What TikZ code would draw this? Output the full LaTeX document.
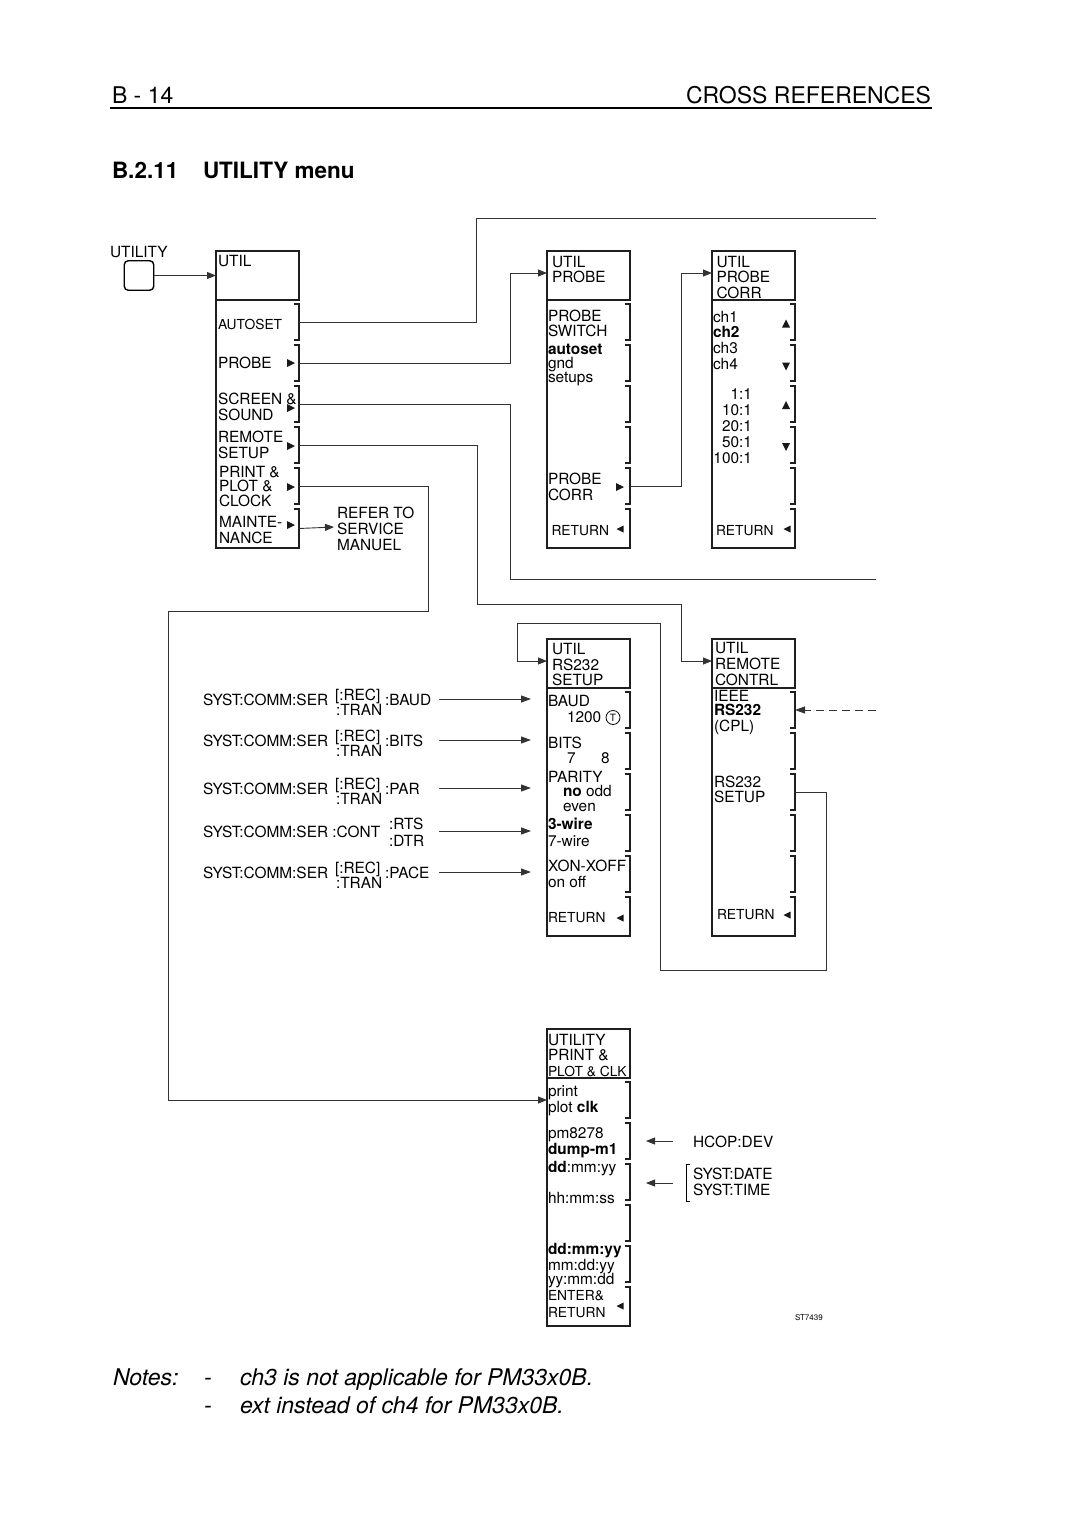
\documentclass[tikz,border=0pt]{standalone}
\usepackage{fontspec}
\setmainfont{TeX Gyre Heros}
\usetikzlibrary{arrows.meta,calc}
\tikzset{
  boxline/.style={line width=1.7pt, draw=black!88},
  conn/.style={line width=0.9pt, draw=black!80},
  arr/.style={-{Triangle[length=9pt,width=7pt]}},
  txt/.style={inner sep=0pt, outer sep=0pt, anchor=base west, font=\fontsize{15.4}{16}\selectfont},
  txr/.style={txt, anchor=base east},
  stxt/.style={txt, font=\fontsize{13.8}{14}\selectfont},
  btxt/.style={txt, font=\fontsize{15.4}{16}\selectfont\bfseries},
  ntxt/.style={txt, font=\fontsize{23}{26}\selectfont\itshape},
}
% menu box: name, x, top y
\newcommand\menubox[3]{%
  \node[boxline, draw, minimum width=83pt, minimum height=49pt, inner sep=0pt, outer sep=0pt, anchor=north west] (#1) at (#2,#3) {};
  \draw[boxline] (#2,#3+49) -- (#2,#3+297) -- (#2+83,#3+297);
  \foreach \a/\b [count=\k] in {53/89,94/130,135/171,176/212,217/253,258/297} {
    \draw[boxline] (#2+78,#3+\a) -- (#2+83,#3+\a) -- (#2+83,#3+\b) -- (#2+78,#3+\b);
    \coordinate (#1-k\k) at (#2+83,{#3+(\a+\b)/2});
    \coordinate (#1-w\k) at (#2,{#3+(\a+\b)/2});
  }
  \coordinate (#1-in) at (#2,#3+22);
}
\newcommand\rtri[2]{\fill[black!90] (#1-4,#2-4) -- (#1+4,#2) -- (#1-4,#2+4) -- cycle;}
\newcommand\ltri[2]{\fill[black!90] (#1+3.5,#2-3.5) -- (#1-3.5,#2) -- (#1+3.5,#2+3.5) -- cycle;}
\newcommand\utri[2]{\fill[black!90] (#1-4,#2+4) -- (#1,#2-4) -- (#1+4,#2+4) -- cycle;}
\newcommand\dtri[2]{\fill[black!90] (#1-4,#2-4) -- (#1,#2+4) -- (#1+4,#2-4) -- cycle;}
\begin{document}
\begin{tikzpicture}[x=1pt,y=-1pt]
\fill[white] (0,0) rectangle (1080,1529);
\useasboundingbox (0,0) rectangle (1080,1529);

% page header
\node[txt, font=\fontsize{23}{26}\selectfont] (hdl) at (112,103) {B - 14};
\node[txr, font=\fontsize{23}{26}\selectfont] (hdr) at (931,103) {CROSS REFERENCES};
\draw[line width=1.3pt] (110,108) -- (932,108);
\node[txt, font=\fontsize{22.5}{24}\selectfont\bfseries] (ttl1) at (112,178) {B.2.11};
\node[txt, font=\fontsize{22.5}{24}\selectfont\bfseries] (ttl2) at (203,178) {UTILITY menu};

% utility key
\node[txt] (lutil) at (110,257) {UTILITY};
\node[draw, line width=1.4pt, rounded corners=4pt, minimum width=29.5pt, minimum height=29.5pt, inner sep=0pt] (btn) at (139,275.5) {};

% boxes
\menubox{util}{216}{251}
\menubox{probe}{547}{251}
\menubox{corr}{712}{251}
\menubox{rs}{547}{639}
\menubox{remote}{712}{639}
\menubox{print}{547}{1029}

% UTIL box text
\node[txt] (u0) at (218,266) {UTIL};
\node[stxt] (u1) at (218,329) {AUTOSET};
\node[txt] (u2) at (218,368) {PROBE};
\node[txt] (u3a) at (218,404) {SCREEN \&};
\node[txt] (u3b) at (218,420) {SOUND};
\node[txt] (u4a) at (218,442) {REMOTE};
\node[txt] (u4b) at (218,458) {SETUP};
\node[txt] (u5a) at (219,477) {PRINT \&};
\node[txt] (u5b) at (219,491) {PLOT \&};
\node[txt] (u5c) at (219,506) {CLOCK};
\node[txt] (u6a) at (219,527) {MAINTE-};
\node[txt] (u6b) at (219,543) {NANCE};
\rtri{291}{363}\rtri{291}{408}\rtri{291}{446}\rtri{291}{487}\rtri{291}{525}
\node[txt] (ref1) at (337,518) {REFER TO};
\node[txt] (ref2) at (337,534) {SERVICE};
\node[txt] (ref3) at (337,550) {MANUEL};
\coordinate (refin) at (334,527);

% UTIL PROBE box
\node[txt] (p0a) at (552,267) {UTIL};
\node[txt] (p0b) at (552,282) {PROBE};
\node[txt] (p1a) at (548,321) {PROBE};
\node[txt] (p1b) at (548,336) {SWITCH};
\node[btxt] (p2a) at (548,354) {autoset};
\node[txt] (p2b) at (548,368) {gnd};
\node[txt] (p2c) at (548,382) {setups};
\node[txt] (p5a) at (548,484) {PROBE};
\node[txt] (p5b) at (548,500) {CORR};
\rtri{620}{487}
\node[stxt] (p6) at (551.5,535) {RETURN};
\ltri{620}{529}

% UTIL PROBE CORR box
\node[txt] (c0a) at (716.5,267) {UTIL};
\node[txt] (c0b) at (716.5,282) {PROBE};
\node[txt] (c0c) at (716.5,298) {CORR};
\node[txt] (c1a) at (713,322) {ch1};
\node[btxt] (c1b) at (713,337.5) {ch2};
\node[txt] (c2a) at (713,353) {ch3};
\node[txt] (c2b) at (713,369) {ch4};
\utri{786}{323.5}\dtri{786}{366.5}
\node[txr] (c3a) at (752,399) {1:1};
\node[txr] (c3b) at (752,415) {10:1};
\node[txr] (c3c) at (752,431) {20:1};
\node[txr] (c3d) at (752,447) {50:1};
\node[txr] (c3e) at (752,463) {100:1};
\utri{786}{405}\dtri{786}{447}
\node[stxt] (c6) at (716,535) {RETURN};
\ltri{787}{529}

% RS232 box
\node[txt] (r0a) at (552,654) {UTIL};
\node[txt] (r0b) at (552,670) {RS232};
\node[txt] (r0c) at (552,685.5) {SETUP};
\node[txt] (r1a) at (548,706) {BAUD};
\node[txt] (r1b) at (567,722) {1200};
\node[circle, draw, line width=0.8pt, minimum size=14pt, inner sep=0pt, font=\fontsize{10}{10}\selectfont] (r1t) at (613,717.5) {T};
\node[txt] (r2a) at (548,748) {BITS};
\node[txt] (r2b) at (567,763.5) {7};
\node[txt] (r2c) at (601,763.5) {8};
\node[txt] (r3a) at (548,782) {PARITY};
\node[txt] (r3b) at (563,796.5) {\textbf{no} odd};
\node[txt] (r3c) at (563,811.5) {even};
\node[btxt] (r4a) at (548,829) {3-wire};
\node[txt] (r4b) at (548,846) {7-wire};
\node[txt] (r5a) at (548,871) {XON-XOFF};
\node[txt] (r5b) at (548,887) {on off};
\node[stxt] (r6) at (548,922) {RETURN};
\ltri{620}{918}

% REMOTE box
\node[txt] (m0a) at (715,653.5) {UTIL};
\node[txt] (m0b) at (715,669) {REMOTE};
\node[txt] (m0c) at (715,685) {CONTRL};
\node[txt] (m1a) at (714,701.5) {IEEE};
\node[btxt] (m1b) at (714,715.5) {RS232};
\node[txt] (m1c) at (714,731) {(CPL)};
\node[txt] (m3a) at (714,787) {RS232};
\node[txt] (m3b) at (714,802.5) {SETUP};
\node[stxt] (m6) at (717,919) {RETURN};
\ltri{787}{915}

% PRINT box
\node[txt] (q0a) at (548,1045) {UTILITY};
\node[txt] (q0b) at (548,1060.5) {PRINT \&};
\node[txt, font=\fontsize{13.8}{14}\selectfont] (q0c) at (548,1076) {PLOT \& CLK};
\node[txt] (q1a) at (548,1096.5) {print};
\node[txt] (q1b) at (548,1112) {plot \textbf{clk}};
\node[txt] (q2a) at (548,1138.5) {pm8278};
\node[btxt] (q2b) at (548,1154) {dump-m1};
\node[txt] (q3a) at (548,1172) {\textbf{dd}:mm:yy};
\node[txt] (q3b) at (548,1203.5) {hh:mm:ss};
\node[btxt] (q5a) at (548,1254.5) {dd:mm:yy};
\node[txt] (q5b) at (548,1270) {mm:dd:yy};
\node[txt] (q5c) at (548,1284) {yy:mm:dd};
\node[stxt] (q6a) at (548,1300) {ENTER\&};
\node[stxt] (q6b) at (548,1317) {RETURN};
\ltri{620}{1306}

% right of PRINT box
\node[txt] (hcop) at (693,1147) {HCOP:DEV};
\node[txt] (sdate) at (693,1179.5) {SYST:DATE};
\node[txt] (stime) at (693,1195) {SYST:TIME};
\draw[line width=0.9pt] (690,1164) -- (686,1164) -- (686,1201) -- (690,1201);
\coordinate (h1s) at (673,1141);
\coordinate (h1e) at (646,1141);
\coordinate (h2s) at (673,1183);
\coordinate (h2e) at (646,1183);
\draw[conn,arr] (h1s) -- (h1e);
\draw[conn,arr] (h2s) -- (h2e);
\node[txt, font=\fontsize{8}{9}\selectfont] (st) at (795,1320) {ST7439};

% SCPI commands to RS232 box
\foreach \Y/\cmd [count=\i] in {699/:BAUD,740/:BITS,788/:PAR,872/:PACE} {
  \node[txt] (sy\i) at (203,\Y+6.5) {SYST:COMM:SER};
  \node[txt] (rec\i) at (335,\Y+1) {[:REC]};
  \node[txt] (tr\i) at (336,\Y+16) {:TRAN};
  \node[txt] (cm\i) at (385,\Y+6.5) {\cmd};
}
\node[txt] (sy5) at (203,837) {SYST:COMM:SER :CONT};
\node[txt] (rts) at (389,829.5) {:RTS};
\node[txt] (dtr) at (389,846) {:DTR};
\foreach \Y [count=\i] in {699,740,788,831,872} {
  \coordinate (ca\i) at (439,\Y);
  \coordinate (cb\i) at (531,\Y);
  \draw[conn,-{Triangle[length=10pt,width=7pt]}] (ca\i) -- (cb\i);
}

% connectors
\coordinate (e1) at (876,218);
\coordinate (e2) at (876,579);
\coordinate (e3) at (876,710);
\draw[conn,arr] (btn.east) -- (btn.east -| util.west);
\draw[conn] (util-k1) -| (476,218) -- (e1);
\draw[conn,arr] (util-k2) -| (510,273) -- (probe-in);
\draw[conn] (util-k3) -| (510,579) -- (e2);
\draw[conn,arr] (util-k4) -| (477,604) -| (681,661) -- (remote-in);
\draw[conn,arr] (util-k5) -| (428,611) -| (168,1100) -- (print-w1);
\draw[conn,arr] (util-k6) -- (refin);
\draw[conn,arr] (probe-k5) -| (681,273) -- (corr-in);
\draw[conn,arr] (remote-k3) -| (826,970) -| (660,623) -| (517,661) -- (rs-in);
\draw[conn,dash pattern=on 8pt off 5pt,-{Triangle[length=10pt,width=7pt]}] (e3) -- (remote-k1);

% notes
\node[ntxt] (n0) at (113,1385) {Notes:};
\node[ntxt] (n1) at (204,1385) {-};
\node[ntxt] (n2) at (240,1385) {ch3 is not applicable for PM33x0B.};
\node[ntxt] (n3) at (204,1413) {-};
\node[ntxt] (n4) at (240,1413) {ext instead of ch4 for PM33x0B.};
\end{tikzpicture}
\end{document}
